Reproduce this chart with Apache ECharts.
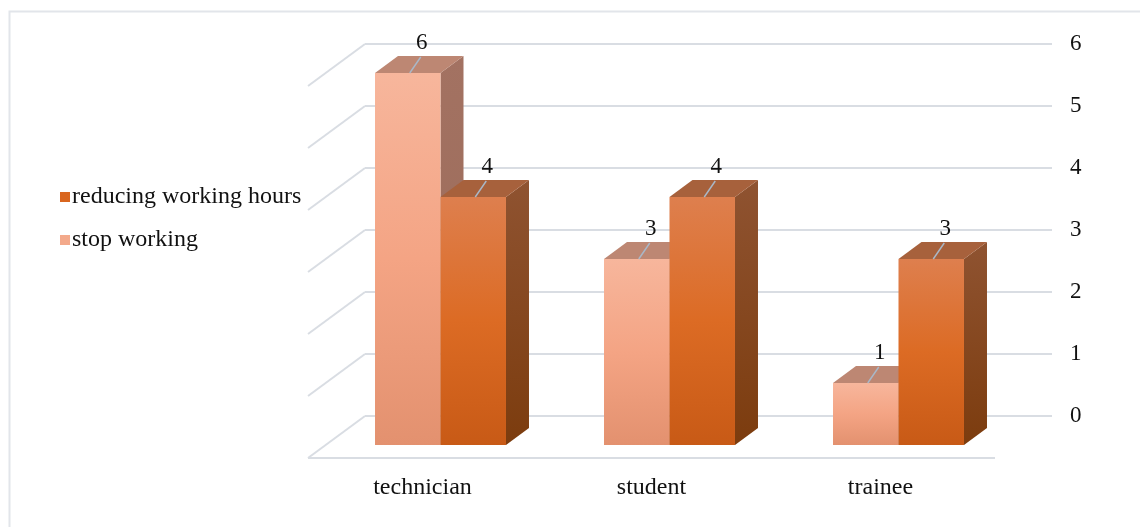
<!DOCTYPE html>
<html>
<head>
<meta charset="utf-8">
<script src="https://cdn.jsdelivr.net/npm/echarts@6/dist/echarts.min.js"></script>
<style>
html,body{margin:0;padding:0;background:#fff;}
#chart{width:1140px;height:527px;}
</style>
</head>
<body>
<div id="chart"></div>
<script>
const categories = ['technician', 'student', 'trainee'];
const stopWorking = [6, 3, 1];
const reducingHours = [4, 4, 3];
const seriesNames = ['stop working', 'reducing working hours'];
const yTicks = [0, 1, 2, 3, 4, 5, 6];

const FONT = '"Liberation Serif", "Times New Roman", serif';
// oblique projection offsets
const DX = -57, DY = 42;      // back wall -> front floor edge
const FX = -39, FY = 29;      // back wall -> bar front plane
const BX = 23, BY = -17;      // bar depth (front -> back face)

const palettes = [
  { front: ['#f7b69c', '#f4a484', '#e3916f'], top: '#bd8773', side: ['#a37262', '#9a6a58'] },
  { front: ['#de7f4e', '#dc6b24', '#c85a16'], top: '#a7613c', side: ['#8f5331', '#7c3c0e'] }
];

function grad(c, x1, y1, x2, y2) {
  return new echarts.graphic.LinearGradient(x1, y1, x2, y2, c.length === 3 ?
    [{offset: 0, color: c[0]}, {offset: 0.5, color: c[1]}, {offset: 1, color: c[2]}] :
    [{offset: 0, color: c[0]}, {offset: 1, color: c[1]}]);
}

function makeBarRender(s) {
  return function (params, api) {
    const cat = api.value(0), val = api.value(1);
    const p = api.coord([cat, val]);
    const p0 = api.coord([cat, 0]);
    const band = api.size([1, 0])[0];
    const w = band * 0.286;
    const left = p[0] + FX + (s === 0 ? -w : 0);
    const right = left + w;
    const top = p[1] + FY;
    const bottom = p0[1] + FY;
    const pal = palettes[s];
    const cx = left + w / 2;
    return {
      type: 'group',
      children: [
        { type: 'polygon', shape: { points: [[right, top], [right + BX, top + BY], [right + BX, bottom + BY], [right, bottom]] },
          style: { fill: grad(pal.side, 0, 0, 0, 1) } },
        { type: 'polygon', shape: { points: [[left, top], [right, top], [right + BX, top + BY], [left + BX, top + BY]] },
          style: { fill: pal.top } },
        { type: 'rect', shape: { x: left, y: top, width: w, height: bottom - top },
          style: { fill: grad(pal.front, 0, 0, 0, 1) } },
        { type: 'line', shape: { x1: cx + 2, y1: top, x2: cx + 13, y2: top - 16 },
          style: { stroke: '#a9b8c8', lineWidth: 1.5 } },
        { type: 'text', x: cx + 14, y: top - 30,
          style: { text: String(val), font: '23px ' + FONT, fill: '#111', align: 'center', verticalAlign: 'middle' } }
      ]
    };
  };
}

function wallRender(params, api) {
  const cs = params.coordSys;
  const v = api.value(1);
  const y = api.coord([0, v])[1];
  const x = cs.x;
  const children = [
    { type: 'line', shape: { x1: x, y1: y, x2: x + DX, y2: y + DY }, style: { stroke: '#d9dde3', lineWidth: 2 } }
  ];
  if (v === 0) {
    children.push({ type: 'line', shape: { x1: x + DX, y1: y + DY, x2: x + cs.width + DX, y2: y + DY },
      style: { stroke: '#d9dde3', lineWidth: 2 } });
  }
  return { type: 'group', children: children };
}

const chart = echarts.init(document.getElementById('chart'), null, { renderer: 'canvas' });
chart.setOption({
  animation: false,
  backgroundColor: '#fff',
  graphic: [
    { type: 'rect', left: 7, top: 9, shape: { x: 0, y: 0, width: 1200, height: 600 },
      style: { fill: 'none', stroke: '#e2e5ea', lineWidth: 2 }, z: -10 }
  ],
  legend: {
    orient: 'vertical', left: 55, top: 180,
    data: [
      { name: 'reducing working hours', icon: 'rect', itemStyle: { color: '#d9661f' } },
      { name: 'stop working', icon: 'rect', itemStyle: { color: '#f3a98b' } }
    ],
    itemWidth: 10, itemHeight: 10, itemGap: 19,
    textStyle: { fontFamily: FONT, fontSize: 24, color: '#111', padding: [0, 0, 0, -3] },
    selectedMode: false
  },
  grid: { left: 365, right: 88, top: 44, bottom: 111, containLabel: false },
  xAxis: {
    type: 'category', data: categories,
    axisLine: { show: false }, axisTick: { show: false }, splitLine: { show: false },
    axisLabel: { margin: 60, fontFamily: FONT, fontSize: 24, color: '#111', padding: [0, 114, 0, 0] }
  },
  yAxis: {
    type: 'value', position: 'right', min: 0, max: 6, interval: 1,
    axisLine: { show: false }, axisTick: { show: false },
    splitLine: { lineStyle: { color: '#d9dde3', width: 2 } },
    axisLabel: { margin: 18, fontFamily: FONT, fontSize: 23, color: '#111', align: 'left' }
  },
  series: [
    { type: 'custom', name: 'wall', renderItem: wallRender, silent: true, z: 1,
      data: yTicks.map(v => [0, v]), encode: { x: 0, y: 1 } },
    { type: 'custom', name: seriesNames[0], renderItem: makeBarRender(0), z: 2,
      itemStyle: { color: '#f3a98b' },
      data: categories.map((c, i) => [i, stopWorking[i]]), encode: { x: 0, y: 1 } },
    { type: 'custom', name: seriesNames[1], renderItem: makeBarRender(1), z: 3,
      itemStyle: { color: '#d9661f' },
      data: categories.map((c, i) => [i, reducingHours[i]]), encode: { x: 0, y: 1 } }
  ]
});
</script>
</body>
</html>
